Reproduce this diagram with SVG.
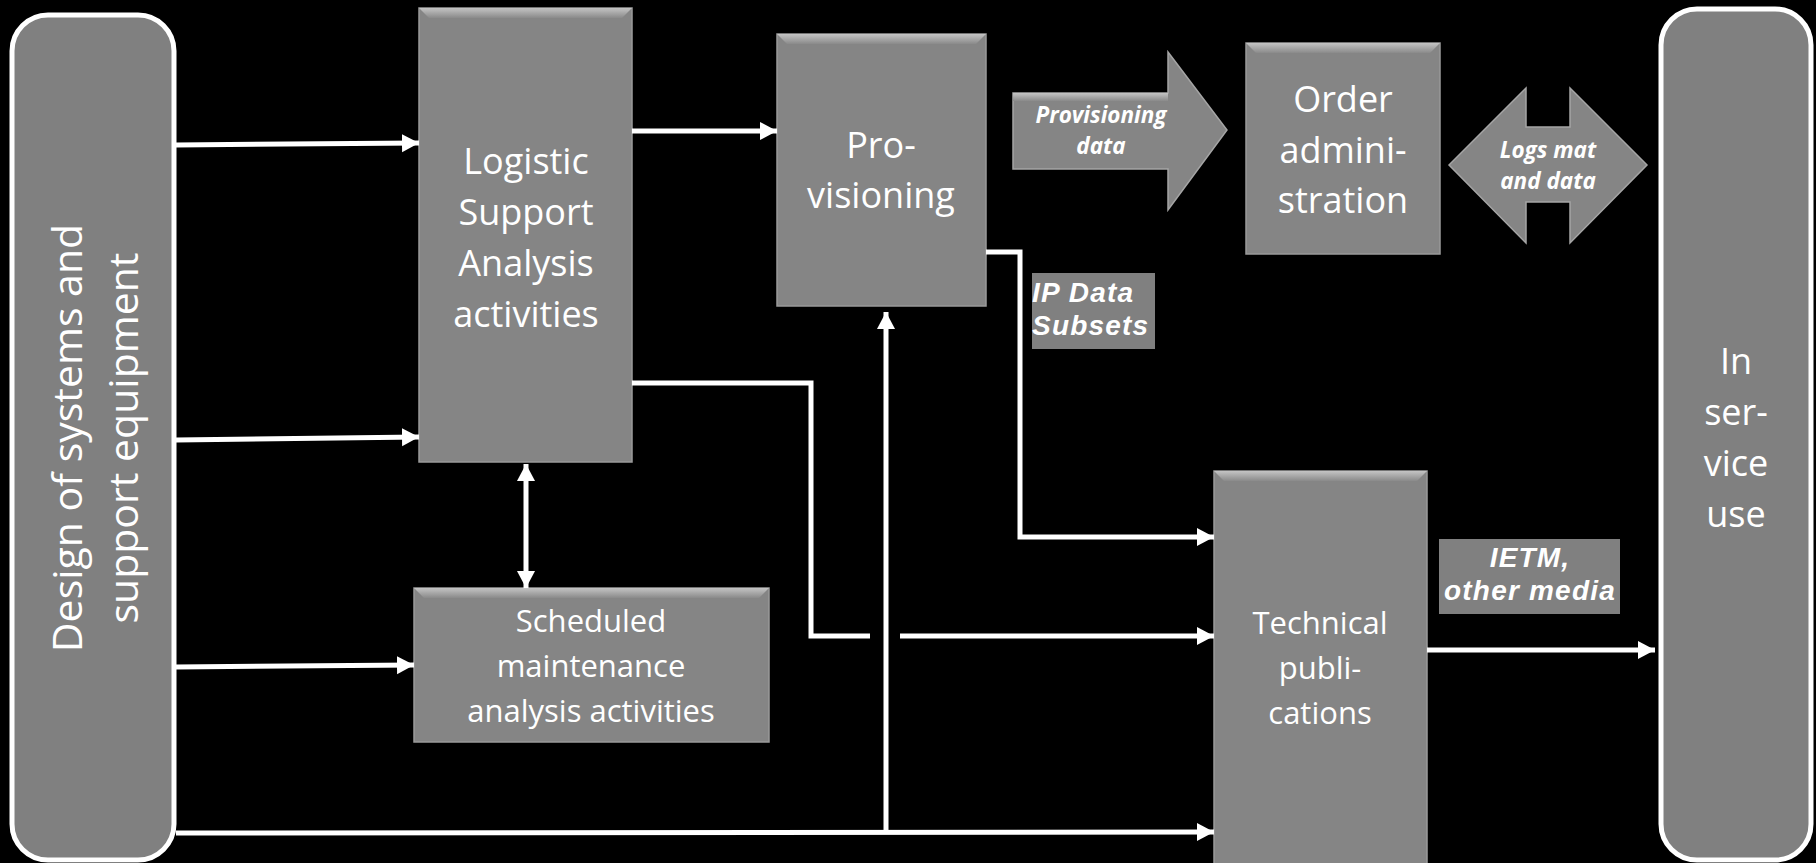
<svg xmlns="http://www.w3.org/2000/svg" width="1816" height="863" viewBox="0 0 1816 863">
<style>
.bg{fill:#000}
.box{fill:#858585;stroke:#9a9a9a;stroke-width:1.5}
.bevel{fill:url(#bevelGrad)}
.round{fill:#808080;stroke:#fff;stroke-width:5}
.fat{fill:#858585;stroke:#a5a5a5;stroke-width:1.5}
.lbl{fill:#808080}
.t{font-family:"Open Sans","Liberation Sans",sans-serif;fill:#fff;text-anchor:middle}
.tb{font-family:"Open Sans","Liberation Sans",sans-serif;font-weight:bold;font-style:italic;fill:#fff;text-anchor:middle;font-size:22.5px}
.ta{font-family:"Liberation Sans",Arial,sans-serif;font-weight:bold;font-style:italic;fill:#fff;font-size:28px;letter-spacing:1.2px}
.c{fill:none;stroke:#fff;stroke-width:5}
.ca{fill:none;stroke:#fff;stroke-width:5;marker-end:url(#ah)}
</style>
<defs>
<linearGradient id="bevelGrad" x1="0" y1="0" x2="0" y2="1">
<stop offset="0" stop-color="#c4c4c4"/>
<stop offset="1" stop-color="#8a8a8a"/>
</linearGradient>
<marker id="ah" markerUnits="userSpaceOnUse" markerWidth="18" markerHeight="19" refX="17" refY="9" orient="auto-start-reverse">
<path d="M0,0 L17,9 L0,18 z" fill="#fff"/>
</marker>
</defs>
<rect class="bg" x="0" y="0" width="1816" height="863"/>

<g id="design">
<rect class="round" x="12" y="15" width="162" height="845" rx="36"/>
<text class="t" font-size="41" transform="translate(82,438) rotate(-90)">Design of systems and</text>
<text class="t" font-size="41" transform="translate(138,438) rotate(-90)">support equipment</text>
</g>

<g id="lsa">
<rect class="box" x="419" y="8" width="213" height="454"/>
<polygon class="bevel" points="419,8 632,8 622,18 429,18"/>
<text class="t" font-size="36"><tspan x="526" y="174">Logistic</tspan><tspan x="526" y="225">Support</tspan><tspan x="526" y="276">Analysis</tspan><tspan x="526" y="327">activities</tspan></text>
</g>

<g id="provisioning">
<rect class="box" x="777" y="34" width="209" height="272"/>
<polygon class="bevel" points="777,34 986,34 976,44 787,44"/>
<text class="t" font-size="36"><tspan x="881" y="158">Pro-</tspan><tspan x="881" y="208">visioning</tspan></text>
</g>

<g id="provdata">
<polygon class="fat" points="1013,93 1168,93 1168,52 1227,130 1168,210 1168,169 1013,169"/>
<polygon class="bevel" points="1013,93 1168,93 1168,101 1013,101"/>
<text class="tb"><tspan x="1101" y="123">Provisioning</tspan><tspan x="1101" y="154">data</tspan></text>
</g>

<g id="order">
<rect class="box" x="1246" y="43" width="194" height="211"/>
<polygon class="bevel" points="1246,43 1440,43 1430,53 1256,53"/>
<text class="t" font-size="36"><tspan x="1343" y="112">Order</tspan><tspan x="1343" y="163">admini-</tspan><tspan x="1343" y="213">stration</tspan></text>
</g>

<g id="logsmat">
<polygon class="fat" points="1449,165 1526,88 1526,127 1570,127 1570,88 1647,165 1570,243 1570,202 1526,202 1526,243"/>
<text class="tb"><tspan x="1548" y="158">Logs mat</tspan><tspan x="1548" y="189">and data</tspan></text>
</g>

<g id="inservice">
<rect class="round" x="1661" y="9" width="150" height="851" rx="36"/>
<text class="t" font-size="36"><tspan x="1736" y="374">In</tspan><tspan x="1736" y="425">ser-</tspan><tspan x="1736" y="476">vice</tspan><tspan x="1736" y="527">use</tspan></text>
</g>

<g id="ipdata">
<rect class="lbl" x="1032" y="273" width="123" height="76"/>
<text class="ta"><tspan x="1032" y="302">IP Data</tspan><tspan x="1032" y="335">Subsets</tspan></text>
</g>

<g id="ietm">
<rect class="lbl" x="1439" y="539" width="181" height="75"/>
<text class="ta" text-anchor="middle"><tspan x="1530" y="567">IETM,</tspan><tspan x="1530" y="600">other media</tspan></text>
</g>

<g id="techpubs">
<rect class="box" x="1214" y="471" width="213" height="400"/>
<polygon class="bevel" points="1214,471 1427,471 1417,481 1224,481"/>
<text class="t" font-size="31"><tspan x="1320" y="634">Technical</tspan><tspan x="1320" y="679">publi-</tspan><tspan x="1320" y="724">cations</tspan></text>
</g>

<g id="scheduled">
<rect class="box" x="414" y="588" width="355" height="154"/>
<polygon class="bevel" points="414,588 769,588 759,598 424,598"/>
<text class="t" font-size="31"><tspan x="591" y="632">Scheduled</tspan><tspan x="591" y="677">maintenance</tspan><tspan x="591" y="722">analysis activities</tspan></text>
</g>

<g id="connectors">
<line class="ca" x1="176" y1="145" x2="419" y2="143"/>
<line class="ca" x1="176" y1="440" x2="419" y2="437"/>
<line class="ca" x1="176" y1="667" x2="414" y2="665"/>
<line class="ca" x1="176" y1="833" x2="1214" y2="832"/>
<line class="ca" x1="886" y1="833" x2="886" y2="312"/>
<line class="ca" x1="632" y1="131" x2="777" y2="131"/>
<path class="c" d="M632,383 H811 V636 H870"/>
<line class="ca" x1="900" y1="636" x2="1214" y2="636"/>
<path class="ca" d="M986,252 H1020 V537 H1214"/>
<line class="ca" x1="526" y1="464" x2="526" y2="588" style="marker-start:url(#ah)"/>
<line class="ca" x1="1427" y1="650" x2="1655" y2="650"/>
</g>
</svg>
